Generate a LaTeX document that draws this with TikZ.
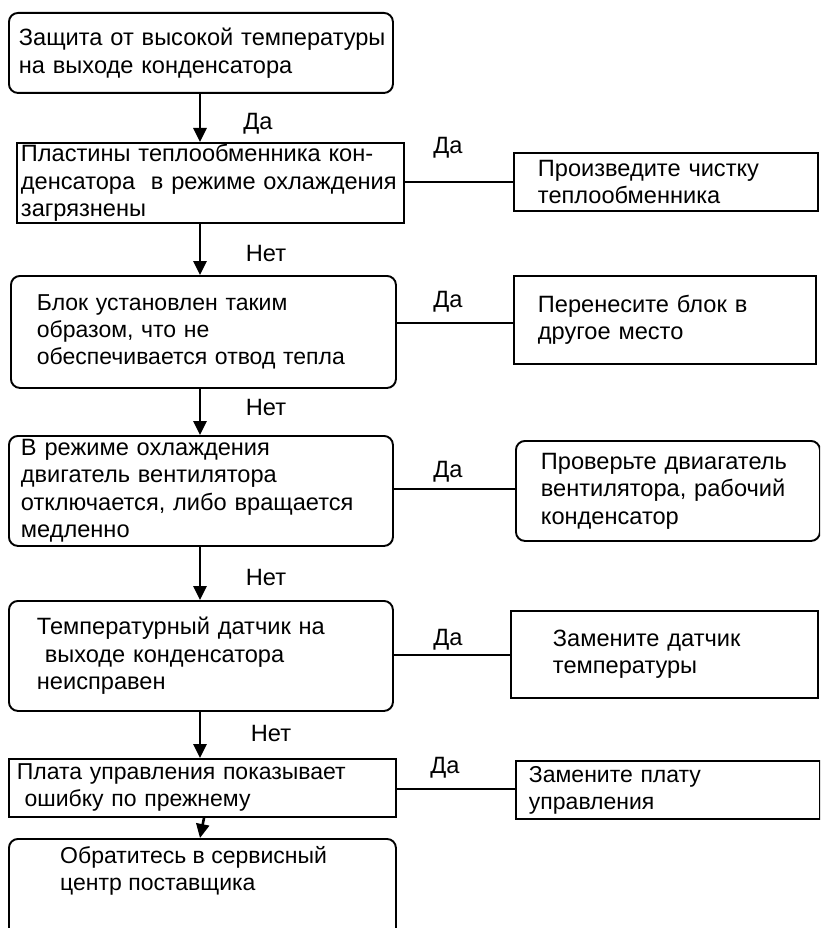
\documentclass[tikz,border=0pt]{standalone}
\usepackage{fontspec}
\setmainfont{Liberation Sans}
\usetikzlibrary{arrows.meta,calc}
\tikzset{
  txt/.style={font=\fontsize{23.6}{27.5}\selectfont},
  stxt/.style={font=\fontsize{23}{27}\selectfont},
  box/.style={txt, draw, line width=1.9pt, inner sep=0pt, align=left, anchor=north west},
  rbox/.style={box, rounded corners=9pt},
  arr/.style={line width=2.6pt, -{Triangle[width=13pt,length=14pt]}},
  link/.style={line width=1.8pt},
  lbl/.style={txt, inner sep=0pt}
}
\begin{document}
\begin{tikzpicture}[x=1pt,y=-1pt]
\useasboundingbox (0,0) rectangle (820,928);
\clip (0,0) rectangle (820,928);
\coordinate (ax) at (200,0);
\coordinate (ax6) at (204,0);
% left column
\node[rbox, minimum width=384pt, minimum height=80pt, text width=364pt] (b1) at (8,12)
  {\mbox{Защита от высокой температуры}\\\mbox{на выходе конденсатора}};
\node[box, minimum width=387pt, minimum height=80pt, text width=379pt] (b2) at (16,142)
  {\mbox{Пластины теплообменника кон-}\\\mbox{денсатора\ \ в режиме охлаждения}\\\mbox{загрязнены}};
\node[rbox, stxt, minimum width=385pt, minimum height=112pt, text width=333pt] (b3) at (10,275)
  {\mbox{Блок установлен таким}\\\mbox{образом, что не}\\\mbox{обеспечивается отвод тепла}};
\node[rbox, minimum width=384pt, minimum height=110pt, text width=360pt] (b4) at (8,435)
  {\mbox{В режиме охлаждения}\\\mbox{двигатель вентилятора}\\\mbox{отключается, либо вращается}\\\mbox{медленно}};
\node[rbox, minimum width=384pt, minimum height=110pt, text width=328pt] (b5) at (8,600)
  {\mbox{Температурный датчик на}\\\mbox{\ выходе конденсатора}\\\mbox{неисправен}};
\node[box, stxt, minimum width=387pt, minimum height=58pt, text width=371pt] (b6) at (8,758)
  {\mbox{Плата управления показывает}\\\mbox{\ ошибку по прежнему}};
\node[rbox, minimum width=387pt, minimum height=160pt] (b7) at (8,838) {};
\node[stxt, inner sep=0pt, align=left, anchor=north west] (t7) at ($(b7.north west)+(52,8)$)
  {Обратитесь в сервисный\\центр поставщика};
% right column
\node[box, minimum width=304pt, minimum height=58pt, text width=256pt] (r1) at (513,152)
  {\mbox{Произведите чистку}\\\mbox{теплообменника}};
\node[box, minimum width=302pt, minimum height=88pt, text width=254pt] (r2) at (513,275)
  {\mbox{Перенесите блок в}\\\mbox{другое место}};
\node[rbox, minimum width=304pt, minimum height=100pt, text width=254pt] (r3) at (515,440)
  {\mbox{Проверьте двиагатель}\\\mbox{вентилятора, рабочий}\\\mbox{конденсатор}};
\node[box, minimum width=307pt, minimum height=87pt, text width=223pt] (r4) at (510,610)
  {\mbox{Замените датчик}\\\mbox{температуры}};
\node[box, stxt, minimum width=304pt, minimum height=58pt, text width=278pt] (r5) at (515,760)
  {\mbox{Замените плату}\\\mbox{управления}};
% vertical arrows
\draw[arr] (b1.south -| ax) -- (b2.north -| ax);
\draw[arr] (b2.south -| ax) -- (b3.north -| ax);
\draw[arr] (b3.south -| ax) -- (b4.north -| ax);
\draw[arr] (b4.south -| ax) -- (b5.north -| ax);
\draw[arr] (b5.south -| ax) -- (b6.north -| ax);
\draw[arr] (b6.south -| ax6) -- (b7.north -| ax);
% horizontal links
\coordinate (y2) at (0,182);
\coordinate (y3) at (0,323);
\coordinate (y4) at (0,489);
\coordinate (y5) at (0,655);
\coordinate (y6) at (0,789);
\draw[link] (b2.east |- y2) -- (r1.west |- y2);
\draw[link] (b3.east |- y3) -- (r2.west |- y3);
\draw[link] (b4.east |- y4) -- (r3.west |- y4);
\draw[link] (b5.east |- y5) -- (r4.west |- y5);
\draw[link] (b6.east |- y6) -- (r5.west |- y6);
% labels
\node[lbl] (n1) at (258,124) {Да};
\node[lbl] (n2) at (266,253) {Нет};
\node[lbl] (n3) at (266,407) {Нет};
\node[lbl] (n4) at (266,577) {Нет};
\node[lbl] (n5) at (271,733) {Нет};
\node[lbl] (d2) at (448,148) {Да};
\node[lbl] (d3) at (448,302) {Да};
\node[lbl] (d4) at (448,472) {Да};
\node[lbl] (d5) at (448,640) {Да};
\node[lbl] (d6) at (445,768) {Да};
\end{tikzpicture}
\end{document}
